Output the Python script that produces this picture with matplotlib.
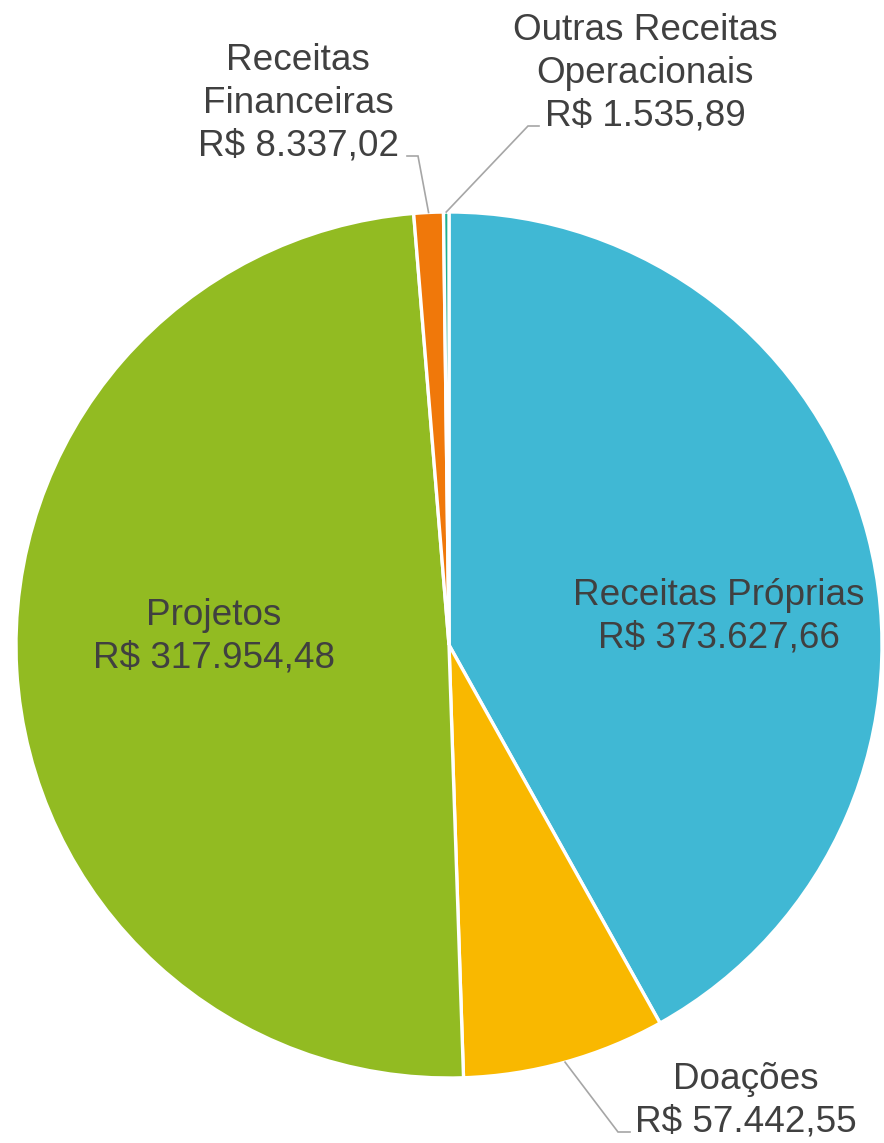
import numpy as np
import matplotlib
matplotlib.use('Agg')
import matplotlib.pyplot as plt

# slice sizes as drawn in the chart (clockwise from 12 o'clock)
categories = ['Receitas Próprias', 'Doações', 'Projetos', 'Receitas Financeiras', 'Outras Receitas Operacionais']
slice_sizes = [317954.48, 57442.55, 373627.66, 8337.02, 1535.89]
# label texts as printed on the chart
label_names = ['Receitas Próprias', 'Doações', 'Projetos', 'Receitas\nFinanceiras', 'Outras Receitas\nOperacionais']
label_values = ['R$ 373.627,66', 'R$ 57.442,55', 'R$ 317.954,48', 'R$ 8.337,02', 'R$ 1.535,89']
colors = ['#40B8D4', '#F9B800', '#92BB22', '#F0780A', '#1FAF8F']

W, H = 884, 1143
plt.rcParams['font.family'] = ['Liberation Sans', 'DejaVu Sans']

fig = plt.figure(figsize=(W / 100, H / 100), dpi=100)
ax = fig.add_axes([0, 0, 1, 1])

cx, cy, r = 449, H - 645, 433
wedges, _ = ax.pie(slice_sizes, colors=colors, startangle=90, counterclock=False,
                   center=(cx, cy), radius=r,
                   wedgeprops=dict(edgecolor='white', linewidth=2.4))
ax.set_xlim(0, W)
ax.set_ylim(0, H)
ax.set_aspect('equal')
ax.axis('off')

txt_color = '#404040'
fs = 26.6

#label positions: (center x, last baseline y) in pixels from top-left
label_pos = [(719, 648), (746, 1132), (214, 668), (298, 156), (645, 126)]
# elbow of leader line (None = label inside slice)
elbows = [None, ((630, 1132), (618, 1132)), None, ((407, 156), (418, 156)), ((539, 126), (528, 126))]

for i, w in enumerate(wedges):
    txt = label_names[i] + '\n' + label_values[i]
    x, y = label_pos[i]
    ax.text(x, H - y, txt, ha='center', va='baseline', fontsize=fs,
            color=txt_color, linespacing=1.3, multialignment='center')
    if elbows[i] is not None:
        mid = np.deg2rad((w.theta1 + w.theta2) / 2)
        ex, ey = cx + r * np.cos(mid), cy + r * np.sin(mid)
        (x0, y0), (x1, y1) = elbows[i]
        ax.plot([x0, x1, ex], [H - y0, H - y1, ey], color='#A6A6A6', lw=1.2,
                solid_joinstyle='miter')

fig.savefig('out.png', dpi=100)
